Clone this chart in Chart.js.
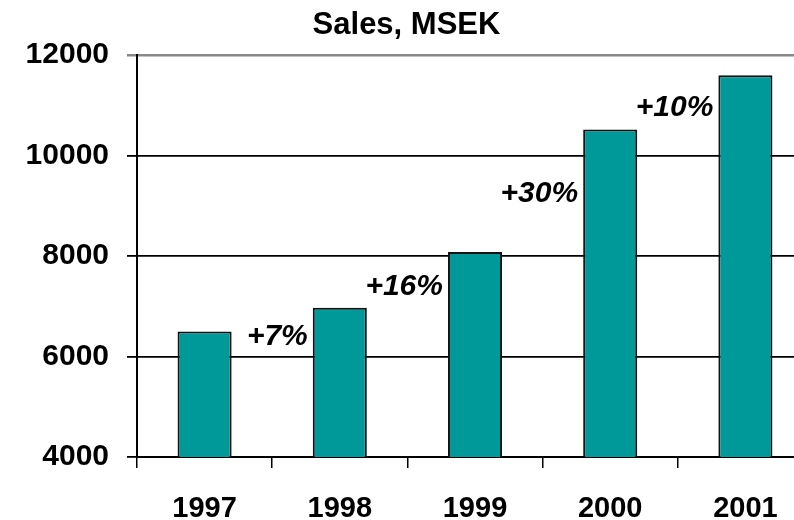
<!DOCTYPE html>
<html>
<head>
<meta charset="utf-8">
<script src="https://cdn.jsdelivr.net/npm/chart.js@4"></script>
<style>
    html, body { margin: 0; padding: 0; background: #fff; overflow: hidden; }
    #wrap { width: 820px; height: 520px; }
</style>
</head>
<body>
<div id="wrap"><canvas id="Chart"></canvas></div>
<script>
const years = ['1997', '1998', '1999', '2000', '2001'];
const sales = [6500, 6970, 8080, 10520, 11600];
const growthLabels = ['+7%', '+16%', '+30%', '+10%'];
const growthLabelY = [6400, 7400, 9250, 10950];
const yMin = 4000;
const yMax = 12000;
const yStep = 2000;

const fontFamily = '"Liberation Sans", Arial, sans-serif';

// growth labels sit just left of the next year's bar
const growthPlugin = {
    id: 'growth',
    afterDatasetsDraw(chart) {
        const ctx = chart.ctx;
        const meta = chart.getDatasetMeta(0);
        const y = chart.scales.y;
        ctx.save();
        ctx.font = 'italic bold 30px ' + fontFamily;
        ctx.fillStyle = '#000';
        ctx.textAlign = 'right';
        ctx.textBaseline = 'middle';
        growthLabels.forEach((txt, i) => {
            const bar = meta.data[i + 1];
            ctx.fillText(txt, bar.x - bar.width / 2 - 5, y.getPixelForValue(growthLabelY[i]));
        });
        ctx.restore();
    }
};

const ctx = document.getElementById('Chart').getContext('2d');
const chart = new Chart(ctx, {
    type: 'bar',
    data: {
        labels: years,
        datasets: [{
            label: 'Sales, MSEK',
            data: sales,
            backgroundColor: '#009999',
            borderColor: '#111',
            borderWidth: 2,
            borderSkipped: false,
            categoryPercentage: 1,
            barPercentage: 0.4
        }]
    },
    options: {
        responsive: true,
        maintainAspectRatio: false,
        animation: false,
        layout: { padding: { left: 0, right: 7, top: 0, bottom: 0 } },
        plugins: {
            legend: { display: false },
            tooltip: { enabled: false },
            title: {
                display: true,
                text: 'Sales, MSEK',
                color: '#000',
                font: { family: fontFamily, size: 31, weight: 'bold' },
                padding: { top: 7, bottom: 11 }
            }
        },
        scales: {
            x: {
                afterFit(scale) { scale.height = 63; },
                border: { color: '#000', width: 2 },
                grid: {
                    offset: true,
                    drawOnChartArea: false,
                    drawTicks: true,
                    tickLength: 11,
                    color: '#000',
                    lineWidth: 1.5
                },
                ticks: {
                    color: '#000',
                    padding: 24,
                    font: { family: fontFamily, size: 29, weight: 'bold' }
                }
            },
            y: {
                min: yMin,
                max: yMax,
                afterFit(scale) { scale.width = 137; },
                border: { color: '#000', width: 2 },
                grid: {
                    color: c => (c.tick && c.tick.value === yMax) ? '#888' : '#000',
                    lineWidth: c => (c.tick && c.tick.value === yMax) ? 2.5 : 1.8,
                    drawTicks: true,
                    tickLength: 10
                },
                ticks: {
                    stepSize: yStep,
                    color: '#000',
                    padding: 18,
                    callback: v => String(v),
                    font: { family: fontFamily, size: 30, weight: 'bold' }
                }
            }
        }
    },
    plugins: [growthPlugin]
});
</script>
</body>
</html>
